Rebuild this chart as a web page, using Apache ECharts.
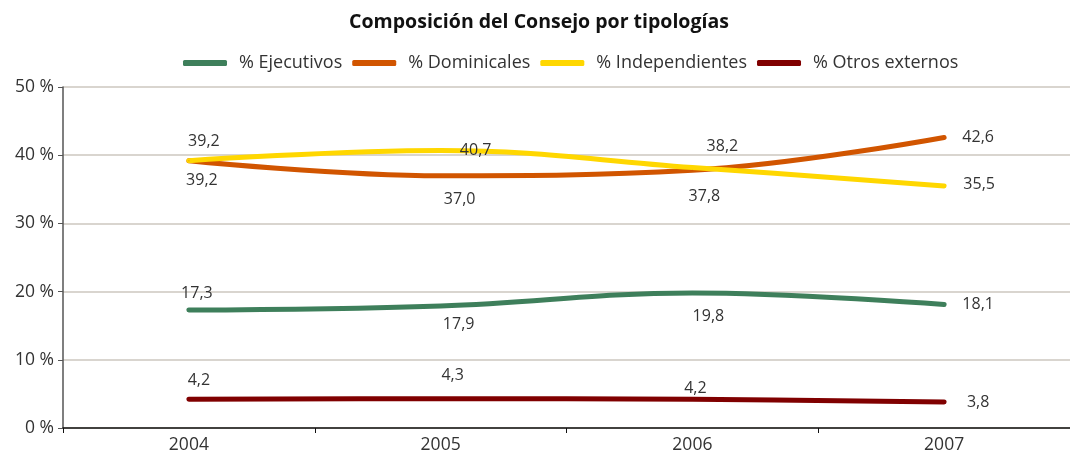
<!DOCTYPE html>
<html>
<head>
<meta charset="utf-8">
<script src="https://cdn.jsdelivr.net/npm/echarts@6/dist/echarts.min.js"></script>
<style>
  html, body { margin: 0; padding: 0; background: #fff; }
  #chart { width: 1070px; height: 468px; }
</style>
</head>
<body>
<div id="chart"></div>
<script>
// datos
const years = ['2004', '2005', '2006', '2007']
const ejecutivos = [17.3, 17.9, 19.8, 18.1]
const dominicales = [39.2, 37.0, 37.8, 42.6]
const independientes = [39.2, 40.7, 38.2, 35.5]
const otrosExternos = [4.2, 4.3, 4.2, 3.8]

// posicion de etiquetas (desplazamiento desde el punto)
const offEjecutivos = [[8, -17], [18, 19], [16, 23], [34, 0]]
const offDominicales = [[13, 20], [19, 24], [12, 26], [34, 0]]
const offIndependientes = [[15, -19], [35, 0], [30, -21], [35, -1]]
const offOtros = [[10, -19], [12, -23], [3, -11], [34, 0]]

const font = '"Open Sans", "Noto Sans", sans-serif'
const fmt = v => v.toFixed(1).replace('.', ',')

function makeSeries(name, values, offsets, color) {
  return {
    name: name,
    type: 'line',
    smooth: 0.4,
    symbol: 'circle',
    symbolSize: 1,
    itemStyle: { color: color },
    lineStyle: { color: color, width: 5, cap: 'round' },
    data: values.map((v, i) => ({
      value: v,
      label: { offset: offsets[i] }
    })),
    label: {
      show: true,
      position: 'inside',
      align: 'center',
      verticalAlign: 'middle',
      color: '#333',
      fontFamily: font,
      fontSize: 16,
      formatter: p => fmt(p.value)
    }
  }
}

const chart = echarts.init(document.getElementById('chart'))
chart.setOption({
  animation: false,
  title: {
    text: 'Composición del Consejo por tipologías',
    left: 534,
    textAlign: 'center',
    top: 7,
    textStyle: { fontFamily: font, fontSize: 19.5, fontWeight: 'bold', color: '#111' }
  },
  legend: {
    left: 178,
    top: 49,
    icon: 'roundRect',
    itemWidth: 44,
    itemHeight: 6,
    itemGap: 10,
    textStyle: { fontFamily: font, fontSize: 18, color: '#333', padding: [0, 0, 0, 7] },
    data: ['% Ejecutivos', '% Dominicales', '% Independientes', '% Otros externos']
  },
  grid: { left: 63, top: 87, width: 1012, height: 341 },
  xAxis: {
    type: 'category',
    data: years,
    boundaryGap: true,
    axisLine: { lineStyle: { color: '#111', width: 1.5 } },
    axisTick: { show: true, length: 5, lineStyle: { color: '#111' } },
    axisLabel: { fontFamily: font, fontSize: 17.5, color: '#333', margin: 8 }
  },
  yAxis: {
    type: 'value',
    min: 0,
    max: 50,
    interval: 10,
    axisLine: { show: true, lineStyle: { color: '#555', width: 1.5 } },
    axisTick: { show: true, length: 5, lineStyle: { color: '#555' } },
    axisLabel: {
      fontFamily: font, fontSize: 17.5, color: '#333', margin: 9,
      formatter: v => v + ' %'
    },
    splitLine: { lineStyle: { color: '#d9d5cf', width: 2 } }
  },
  series: [
    makeSeries('% Ejecutivos', ejecutivos, offEjecutivos, '#3e7f5b'),
    makeSeries('% Dominicales', dominicales, offDominicales, '#d15500'),
    makeSeries('% Independientes', independientes, offIndependientes, '#ffd700'),
    makeSeries('% Otros externos', otrosExternos, offOtros, '#800000')
  ]
})
</script>
</body>
</html>
